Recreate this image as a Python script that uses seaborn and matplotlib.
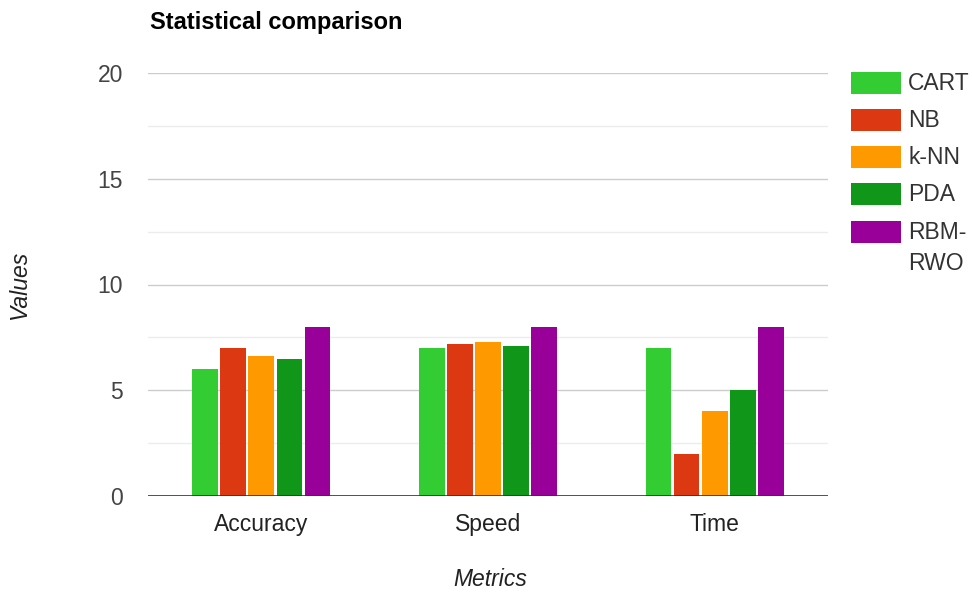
import matplotlib
matplotlib.use("Agg")
import matplotlib.pyplot as plt
import matplotlib.patches as mpatches
import seaborn as sns
import pandas as pd

metrics = ["Accuracy", "Speed", "Time"]
models = ["CART", "NB", "k-NN", "PDA", "RBM-RWO"]
legend_labels = ["CART", "NB", "k-NN", "PDA", "RBM-\nRWO"]
cart = [6.0, 7.0, 7.0]
nb = [7.0, 7.2, 2.0]
knn = [6.6, 7.3, 4.0]
pda = [6.5, 7.1, 5.0]
rbm_rwo = [8.0, 8.0, 8.0]
colors = ["#33cc33", "#dc3912", "#ff9900", "#109618", "#990099"]
y_ticks = [0, 5, 10, 15, 20]

series = [cart, nb, knn, pda, rbm_rwo]
df = pd.DataFrame(
    [(m, model, vals[i]) for model, vals in zip(models, series) for i, m in enumerate(metrics)],
    columns=["Metric", "Model", "Value"],
)

sns.set_theme(style="white")
plt.rcParams["font.family"] = ["Liberation Sans", "DejaVu Sans"]

W, H = 972, 594
fig = plt.figure(figsize=(W / 100, H / 100), dpi=100)
ax = fig.add_axes([148 / W, 1 - 496 / H, 680 / W, 423 / H])

sns.barplot(
    data=df, x="Metric", y="Value", hue="Model", order=metrics, hue_order=models,
    palette=colors, width=0.62, gap=0.08, edgecolor="none", linewidth=0,
    saturation=1, ax=ax, legend=False, errorbar=None,
)

ax.set_ylim(0, 20)
ax.set_xlim(-0.5, 2.5)
for v in [2.5, 7.5, 12.5, 17.5]:
    ax.axhline(v, color="#ececec", lw=1, zorder=0)
for v in [5, 10, 15, 20]:
    ax.axhline(v, color="#cccccc", lw=1, zorder=0)
ax.axhline(0, color="#333333", lw=1.2, zorder=3)

ax.set_yticks(y_ticks)
ax.set_yticklabels([str(t) for t in y_ticks])
ax.tick_params(axis="y", length=0, pad=18, labelsize=16.5, labelcolor="#444444")
ax.tick_params(axis="x", length=0, pad=12, labelsize=16.5, labelcolor="#222222")
for s in ax.spines.values():
    s.set_visible(False)
ax.set_xlabel("")
ax.set_ylabel("")

fig.text(490 / W, 1 - 580 / H, "Metrics", fontsize=16.5, style="italic",
         color="#222222", ha="center", va="center")
fig.text(20 / W, 1 - 285 / H, "Values", fontsize=16.5, style="italic",
         color="#222222", ha="center", va="center", rotation=90)

fig.text(150 / W, 1 - 23 / H, "Statistical comparison", fontsize=17,
         fontweight="bold", color="#000000", ha="left", va="center")

# Legend: colour swatches with labels, one row per model
row_y = [83, 120, 157, 194, 232]
for c, lab, yc in zip(colors, legend_labels, row_y):
    fig.add_artist(mpatches.Rectangle(
        (851 / W, 1 - (yc + 11) / H), 50 / W, 22 / H,
        transform=fig.transFigure, facecolor=c, edgecolor="none"))
    fig.text(908 / W, 1 - (yc - 11) / H, lab, fontsize=16.5, color="#333333",
             ha="left", va="top", linespacing=1.45)

fig.savefig("out.png", dpi=100)
